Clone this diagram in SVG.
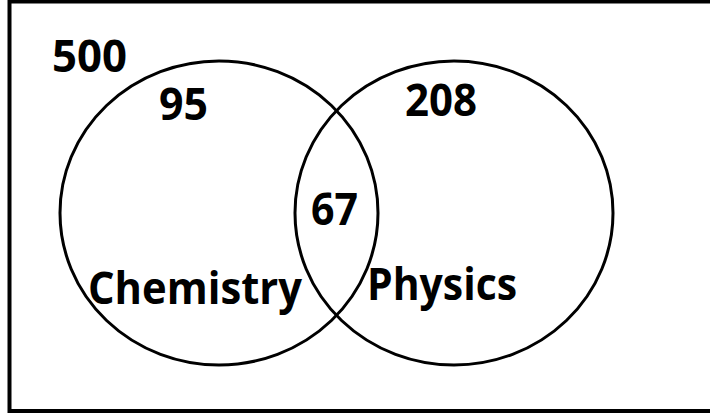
<svg xmlns="http://www.w3.org/2000/svg" width="710" height="418" viewBox="0 0 710 418">
<style>
.frame{fill:none;stroke:#000;stroke-width:4}
.set{fill:none;stroke:#000;stroke-width:3}
.lbl{font-family:"Open Sans","Noto Sans","Liberation Sans",sans-serif;font-weight:bold;font-size:45px;fill:#000}
</style>
<rect width="710" height="418" fill="#fff"/>
<g id="frame">
<path class="frame" d="M710,1.5 H9.5 V411 H710"/>
</g>
<g id="universe">
<text class="lbl" x="52" y="72" textLength="75" lengthAdjust="spacingAndGlyphs">500</text>
</g>
<g id="chemistry">
<ellipse class="set" cx="219" cy="213" rx="159" ry="152"/>
<text class="lbl" x="159" y="120" textLength="49" lengthAdjust="spacingAndGlyphs">95</text>
<text class="lbl" x="88" y="304" textLength="214" lengthAdjust="spacingAndGlyphs">Chemistry</text>
</g>
<g id="physics">
<ellipse class="set" cx="454" cy="213" rx="159" ry="152"/>
<text class="lbl" x="405" y="116" textLength="72" lengthAdjust="spacingAndGlyphs">208</text>
<text class="lbl" x="367" y="300" textLength="150" lengthAdjust="spacingAndGlyphs">Physics</text>
</g>
<g id="intersection">
<text class="lbl" x="311" y="225" textLength="47" lengthAdjust="spacingAndGlyphs">67</text>
</g>
<g id="connectors"></g>
</svg>
